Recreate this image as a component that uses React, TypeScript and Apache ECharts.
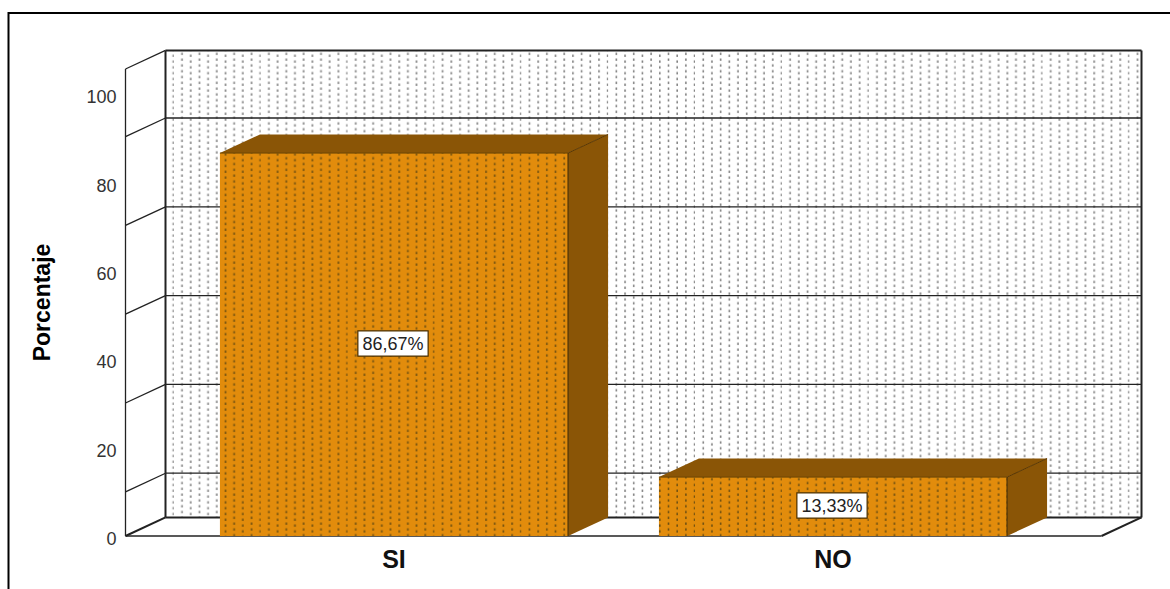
import React, { useEffect, useRef } from "react";
import * as echarts from "echarts";

const categories = ["SI", "NO"];
const values = [86.67, 13.33];
const valueLabels = ["86,67%", "13,33%"];
const gridLineValues = [10, 30.1, 50.2, 70.3, 90.4];
const axisTop = 105.7;
const axisTitle = "Porcentaje";

const ORANGE = "#e28c0c";
const BROWN = "#8a5506";
const LINE = "#222222";
const DEPTH_X = 40;
const DEPTH_Y = -18.6;
const FLOOR_OVERHANG = 49;

function dotPattern(background: string, dot: string): any {
  const S = 4;
  const w = 348;
  const h = 24;
  const canvas = document.createElement("canvas");
  canvas.width = w;
  canvas.height = h;
  const ctx = canvas.getContext("2d")!;
  ctx.fillStyle = background;
  ctx.fillRect(0, 0, w, h);
  ctx.fillStyle = dot;
  for (let i = 0; i < 10; i++) {
    const x = (7.5 + 8.7 * i) * S;
    const y = i % 2 === 0 ? 2 : 10;
    ctx.fillRect(x, y, 1.6 * S, 2.4 * S);
  }
  return {
    image: canvas,
    repeat: "repeat",
    imageWidth: w,
    imageHeight: h,
    scaleX: 86.87 / w,
    scaleY: 5.8 / h,
  };
}

export default function App() {
  const ref = useRef<HTMLDivElement>(null);
  useEffect(() => {
    document.body.style.margin = "0";
    const chart = echarts.init(ref.current!, null, { renderer: "svg" });
    const wallFill = dotPattern("#ffffff", "#808080");
    const barFill = dotPattern(ORANGE, "#6e5012");

    const line = (x1: number, y1: number, x2: number, y2: number, width = 1.3, stroke = LINE) => ({
      type: "line",
      shape: { x1, y1, x2, y2 },
      style: { stroke, lineWidth: width },
    });

    const renderWalls = (params: any, api: any) => {
      const cs = params.coordSys;
      const left = cs.x - FLOOR_OVERHANG;
      const right = cs.x + cs.width + FLOOR_OVERHANG;
      const top = cs.y;
      const bottom = cs.y + cs.height;
      const children: any[] = [
        {
          type: "rect",
          shape: { x: left + DEPTH_X, y: top + DEPTH_Y, width: right - left, height: bottom - top },
          style: { fill: wallFill },
        },
      ];
      gridLineValues.forEach((v) => {
        const y = api.coord([0, v])[1];
        children.push(line(left, y, left + DEPTH_X, y + DEPTH_Y));
        children.push(line(left + DEPTH_X, y + DEPTH_Y, right + DEPTH_X, y + DEPTH_Y));
      });
      children.push(
        { type: "polygon", shape: { points: [[left, bottom], [right, bottom], [right + DEPTH_X, bottom + DEPTH_Y], [left + DEPTH_X, bottom + DEPTH_Y]] }, style: { fill: "#ffffff" } },
        line(left, top, left, bottom),
        line(left, top, left + DEPTH_X, top + DEPTH_Y),
        line(left + DEPTH_X, top + DEPTH_Y, left + DEPTH_X, bottom + DEPTH_Y, 2),
        line(left + DEPTH_X, top + DEPTH_Y, right + DEPTH_X, top + DEPTH_Y, 2),
        line(right + DEPTH_X, top + DEPTH_Y, right + DEPTH_X, bottom + DEPTH_Y, 2),
        line(left + DEPTH_X, bottom + DEPTH_Y, right + DEPTH_X, bottom + DEPTH_Y, 2),
        line(left, bottom, left + DEPTH_X, bottom + DEPTH_Y, 2),
        line(right, bottom, right + DEPTH_X, bottom + DEPTH_Y, 2),
        line(left, bottom, right, bottom, 1.3)
      );
      return { type: "group", children };
    };

    const renderBar = (params: any, api: any) => {
      const idx = api.value(0);
      const val = api.value(1);
      const [cx, yTop] = api.coord([idx, val]);
      const yBase = api.coord([idx, 0])[1];
      const w = api.size([1, 0])[0] * 0.793;
      const x0 = cx - w / 2;
      const x1 = cx + w / 2;
      return {
        type: "group",
        children: [
          { type: "polygon", shape: { points: [[x0, yTop], [x1, yTop], [x1 + DEPTH_X, yTop + DEPTH_Y], [x0 + DEPTH_X, yTop + DEPTH_Y]] }, style: { fill: BROWN } },
          { type: "polygon", shape: { points: [[x1, yTop], [x1 + DEPTH_X, yTop + DEPTH_Y], [x1 + DEPTH_X, yBase + DEPTH_Y], [x1, yBase]] }, style: { fill: BROWN } },
          { type: "rect", shape: { x: x0, y: yTop, width: w, height: yBase - yTop }, style: { fill: barFill } },
          line(x1, yTop, x1 + DEPTH_X, yTop + DEPTH_Y, 1, "#5a3804"),
          line(x1, yTop, x1, yBase, 1.2, "#4a3004"),
          line(x0, yTop, x1, yTop, 1, "#6a4505"),
          {
            type: "text",
            x: cx - 1,
            y: (yTop + yBase) / 2 - 1,
            style: {
              text: valueLabels[params.dataIndex],
              fill: "#222222",
              font: '18px "Liberation Sans", Arial, sans-serif',
              align: "center",
              verticalAlign: "middle",
              backgroundColor: "#ffffff",
              borderColor: "#4a3004",
              borderWidth: 1.2,
              padding: [3, 4, 3, 4],
            },
          },
        ],
      };
    };

    chart.setOption({
      animation: false,
      backgroundColor: "#ffffff",
      grid: { left: 174.5, right: 117.5, top: 69, bottom: 53 },
      xAxis: {
        type: "category",
        data: categories,
        axisLine: { show: false },
        axisTick: { show: false },
        axisLabel: {
          margin: 10,
          color: "#111111",
          fontFamily: '"Liberation Sans", Arial, sans-serif',
          fontWeight: "bold",
          fontSize: 25,
        },
      },
      yAxis: {
        type: "value",
        min: 0,
        max: axisTop,
        interval: 20,
        offset: FLOOR_OVERHANG,
        splitLine: { show: false },
        axisLine: { show: false },
        axisTick: { show: false },
        axisLabel: {
          margin: 9,
          color: "#333333",
          fontFamily: '"Liberation Sans", Arial, sans-serif',
          fontSize: 18,
          verticalAlign: "top",
          lineHeight: 6,
          showMaxLabel: false,
          formatter: (v: number) => (v % 20 === 0 ? String(v) : ""),
        },
        name: axisTitle,
        nameLocation: "middle",
        nameRotate: 90,
        nameGap: 72,
        nameTextStyle: {
          color: "#000000",
          fontFamily: '"Liberation Sans", Arial, sans-serif',
          fontWeight: "bold",
          fontSize: 23,
        },
      },
      graphic: [
        {
          type: "polyline",
          silent: true,
          shape: { points: [[1170, 13], [8.5, 13], [8.5, 589]] },
          style: { stroke: "#000000", lineWidth: 2, fill: "none" },
        },
      ],
      series: [
        {
          type: "custom",
          z: 1,
          silent: true,
          clip: false,
          renderItem: renderWalls,
          encode: { x: 0, y: 1 },
          data: [[0, 0]],
        },
        {
          type: "custom",
          z: 2,
          silent: true,
          clip: false,
          renderItem: renderBar,
          encode: { x: 0, y: 1 },
          data: values.map((v, i) => [i, v]),
        },
      ],
    });
    return () => chart.dispose();
  }, []);
  return <div ref={ref} style={{ position: "absolute", left: 0, top: 0, width: 1170, height: 589 }} />;
}
